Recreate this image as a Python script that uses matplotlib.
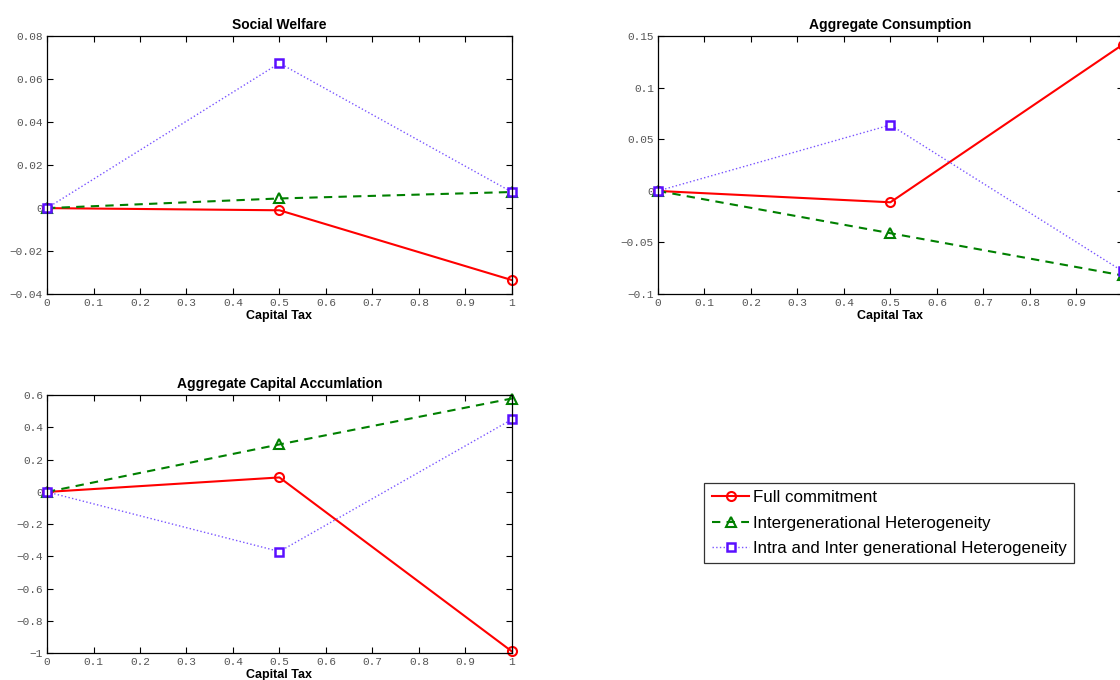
import numpy as np
import matplotlib
matplotlib.use("Agg")
import matplotlib.pyplot as plt
from matplotlib.ticker import FuncFormatter

plt.rcParams['font.family'] = ['Liberation Sans', 'DejaVu Sans']
plt.rcParams['axes.unicode_minus'] = True

# data
capital_tax = [0, 0.5, 1]

welfare_full = [0, -0.001, -0.0335]
welfare_inter = [0, 0.0045, 0.0075]
welfare_intra = [0, 0.0675, 0.0075]

cons_full = [0, -0.011, 0.142]
cons_inter = [0, -0.041, -0.082]
cons_intra = [0, 0.064, -0.078]

cap_full = [0, 0.09, -0.99]
cap_inter = [0, 0.295, 0.58]
cap_intra = [0, -0.37, 0.45]

series_names = ["Full commitment",
                "Intergenerational Heterogeneity",
                "Intra and Inter generational Heterogeneity"]

x_ticks = np.round(np.arange(0, 1.01, 0.1), 1)

RED = '#ff0000'
GREEN = '#008000'
PURPLE = '#5a10ff'
PURPLE_LINE = '#7a55ff'


def fmt(v, pos):
    if abs(v) < 1e-9:
        return '0'
    s = '%g' % round(v, 4)
    return s.replace('-', '\u2212')


def draw_panel(ax, full, inter, intra, title, ylim, ystep):
    ax.plot(capital_tax, full, '-', color=RED, lw=1.5, marker='o', ms=6.5,
            mfc='none', mec=RED, mew=1.5, label=series_names[0], clip_on=False)
    ax.plot(capital_tax, inter, '--', color=GREEN, lw=1.5, marker='^', ms=7,
            mfc='none', mec=GREEN, mew=1.5, dashes=(4, 3), label=series_names[1],
            clip_on=False)
    ax.plot(capital_tax, intra, ':', color=PURPLE_LINE, lw=1.0, marker='s', ms=5.5,
            mfc='white', mec=PURPLE, mew=1.8, label=series_names[2], clip_on=False)
    ax.set_xlim(0, 1)
    ax.set_ylim(*ylim)
    ax.set_xticks(x_ticks)
    ax.set_yticks(np.arange(ylim[0], ylim[1] + ystep / 2, ystep))
    ax.xaxis.set_major_formatter(FuncFormatter(fmt))
    ax.yaxis.set_major_formatter(FuncFormatter(fmt))
    ax.tick_params(direction='in', top=True, right=True, length=4, width=0.8,
                   labelsize=8, labelcolor='#555555', pad=3)
    for lab in ax.get_xticklabels() + ax.get_yticklabels():
        lab.set_family(['Liberation Mono', 'DejaVu Sans Mono'])
    for sp in ax.spines.values():
        sp.set_linewidth(0.9)
    ax.set_title(title, fontsize=10, fontweight='bold', pad=5)
    ax.set_xlabel('Capital Tax', fontsize=9, fontweight='bold', labelpad=1)


fig = plt.figure(figsize=(11.2, 6.8), dpi=100)
ax1 = fig.add_axes([0.042, 0.5676, 0.415, 0.379])
ax2 = fig.add_axes([0.5875, 0.5676, 0.415, 0.379])
ax3 = fig.add_axes([0.042, 0.0397, 0.415, 0.379])

draw_panel(ax1, welfare_full, welfare_inter, welfare_intra, 'Social Welfare', (-0.04, 0.08), 0.02)
draw_panel(ax2, cons_full, cons_inter, cons_intra, 'Aggregate Consumption', (-0.1, 0.15), 0.05)
draw_panel(ax3, cap_full, cap_inter, cap_intra, 'Aggregate Capital Accumlation', (-1, 0.6), 0.2)

handles, labels = ax1.get_legend_handles_labels()
leg = fig.legend(handles, labels, loc='upper left', bbox_to_anchor=(0.629, 0.29),
                 fontsize=12.2, frameon=True, fancybox=False, edgecolor='black',
                 handlelength=2.2, handletextpad=0.2, borderpad=0.45, labelspacing=0.6,
                 borderaxespad=0)
leg.get_frame().set_linewidth(0.9)

fig.savefig('out.png', dpi=100)
